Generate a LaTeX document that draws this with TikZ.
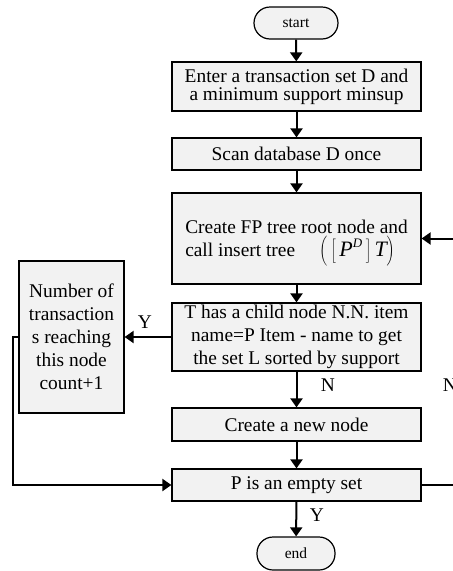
\documentclass[tikz,border=0pt]{standalone}
\usepackage{fontspec}
\setmainfont{Liberation Serif}
\usetikzlibrary{arrows.meta}
\definecolor{boxfill}{HTML}{F2F2F2}
\tikzset{
  box/.style={draw, line width=1.2pt, fill=boxfill, inner sep=0pt, align=center,
    font=\fontsize{19.4}{23}\selectfont},
  term/.style={box, rounded corners=16pt, font=\fontsize{15.5}{18}\selectfont},
  conn/.style={line width=2pt, -{Triangle[length=9pt,width=12pt]}},
  plain/.style={line width=2pt},
  lab/.style={font=\fontsize{19.4}{23}\selectfont, inner sep=0pt}
}
\newcommand{\fpmath}{\smash{\fontsize{22}{24}\selectfont$\left(\rule[-9pt]{0pt}{28pt}\left[\rule[-5pt]{0pt}{22pt}\,\textit{P}\raisebox{9pt}{\fontsize{13}{13}\selectfont\textit{D}}\,\right]\textit{T}\right)$}}
\begin{document}
\begin{tikzpicture}[x=1pt,y=-1pt]
\useasboundingbox (0,0) rectangle (453,571);
\clip (0,0) rectangle (453,571);
\node[term, minimum width=84pt, minimum height=32pt] (start) at (296,23) {start};
\node[box, minimum width=249pt, minimum height=49pt, font=\fontsize{19.4}{18.3}\selectfont] (enter) at (296.5,86.5) {Enter a transaction set D and\\a minimum support minsup};
\node[box, minimum width=249pt, minimum height=32pt] (scan) at (296.5,154) {Scan database D once};
\node[box, minimum width=249pt, minimum height=91pt, align=left] (fp) at (296.5,238.5)
  {Create FP tree root node and\\call insert tree \quad\fpmath};
\node[box, minimum width=249pt, minimum height=68pt] (thas) at (296.5,337) {T has a child node N.N. item\\name=P Item - name to get\\the set L sorted by support};
\node[box, minimum width=105pt, minimum height=152pt] (num) at (71.5,337) {Number of\\transaction\\s reaching\\this node\\count+1};
\node[box, minimum width=249pt, minimum height=33pt] (create) at (296.5,424.5) {Create a new node};
\node[box, minimum width=249pt, minimum height=32pt] (pset) at (296.5,485) {P is an empty set};
\node[term, minimum width=78pt, minimum height=33pt] (end) at (296,553.5) {end};
\coordinate (lc) at (13,337);
\coordinate (ld) at (13,485);
\coordinate (rd) at (462,485);
\coordinate (ru) at (462,238.5);
\draw[conn] (start) -- (enter);
\draw[conn] (enter) -- (scan);
\draw[conn] (scan) -- (fp);
\draw[conn] (fp) -- (thas);
\draw[conn] (thas) -- (num);
\draw[conn] (thas) -- (create);
\draw[conn] (create) -- (pset);
\draw[conn] (pset) -- (end);
\draw[conn] (num.west) -- (lc) -- (ld) -- (pset.west);
\draw[conn] (pset.east) -- (rd) -- (ru) -- (fp.east);
\node[lab] (ly) at (145,322) {Y};
\node[lab] (ln) at (328,385) {N};
\node[lab] (ln2) at (450,385) {N};
\node[lab] (ly2) at (317,515) {Y};
\end{tikzpicture}
\end{document}
